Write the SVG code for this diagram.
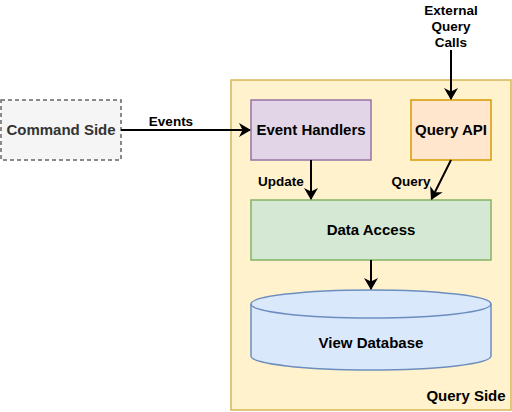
<svg xmlns="http://www.w3.org/2000/svg" width="512" height="412" viewBox="0 0 512 412">
<defs>
<style>
text{font-family:"Liberation Sans",Arial,sans-serif;font-size:15px;font-weight:bold;fill:#000;text-anchor:middle}
text.lbl{font-size:13.5px}
.edge{stroke:#000;stroke-width:2;fill:none}
</style>
<marker id="arr" viewBox="0 0 12 14" refX="11" refY="7" markerWidth="6" markerHeight="7" markerUnits="strokeWidth" orient="auto">
<path d="M0,0 L12,7 L0,14 L3.5,7 Z" fill="#000"/>
</marker>
</defs>
<rect width="512" height="412" fill="#fff"/>
<g id="query-side">
<rect x="231" y="80" width="280" height="330" fill="#fff2cc" stroke="#d6b656" stroke-width="1.5"/>
<text x="466" y="401">Query Side</text>
</g>
<g id="command-side">
<rect x="1" y="100" width="120" height="60" fill="#f5f5f5" stroke="#666666" stroke-width="1.5" stroke-dasharray="4 3"/>
<text x="61" y="135" style="fill:#333333">Command Side</text>
</g>
<g id="event-handlers">
<rect x="251" y="100" width="120" height="60" fill="#e1d5e7" stroke="#9673a6" stroke-width="1.5"/>
<text x="311" y="135">Event Handlers</text>
</g>
<g id="query-api">
<rect x="411" y="100" width="80" height="60" fill="#ffe6cc" stroke="#d79b00" stroke-width="1.5"/>
<text x="451" y="135">Query API</text>
</g>
<g id="data-access">
<rect x="251" y="200" width="240" height="60" fill="#d5e8d4" stroke="#82b366" stroke-width="1.5"/>
<text x="371" y="235">Data Access</text>
</g>
<g id="view-database">
<path d="M251,304 A120,14 0 0 1 491,304 L491,356 A120,14 0 0 1 251,356 Z" fill="#dae8fc" stroke="#6c8ebf" stroke-width="1.5"/>
<path d="M251,304 A120,14 0 0 0 491,304" fill="none" stroke="#6c8ebf" stroke-width="1.5"/>
<text x="371" y="348">View Database</text>
</g>
<g id="external-query-calls">
<text class="lbl" x="451" y="15">External</text>
<text class="lbl" x="451" y="31">Query</text>
<text class="lbl" x="451" y="47">Calls</text>
</g>
<g id="connectors">
<path class="edge" d="M121,130 L250,130" marker-end="url(#arr)"/>
<text class="lbl" x="171" y="126">Events</text>
<path class="edge" d="M451,50 L451,99" marker-end="url(#arr)"/>
<path class="edge" d="M311,160 L311,199" marker-end="url(#arr)"/>
<text class="lbl" x="281" y="186">Update</text>
<path class="edge" d="M451,160 L431.5,199" marker-end="url(#arr)"/>
<text class="lbl" x="411" y="186">Query</text>
<path class="edge" d="M371,260 L371,289" marker-end="url(#arr)"/>
</g>
</svg>
